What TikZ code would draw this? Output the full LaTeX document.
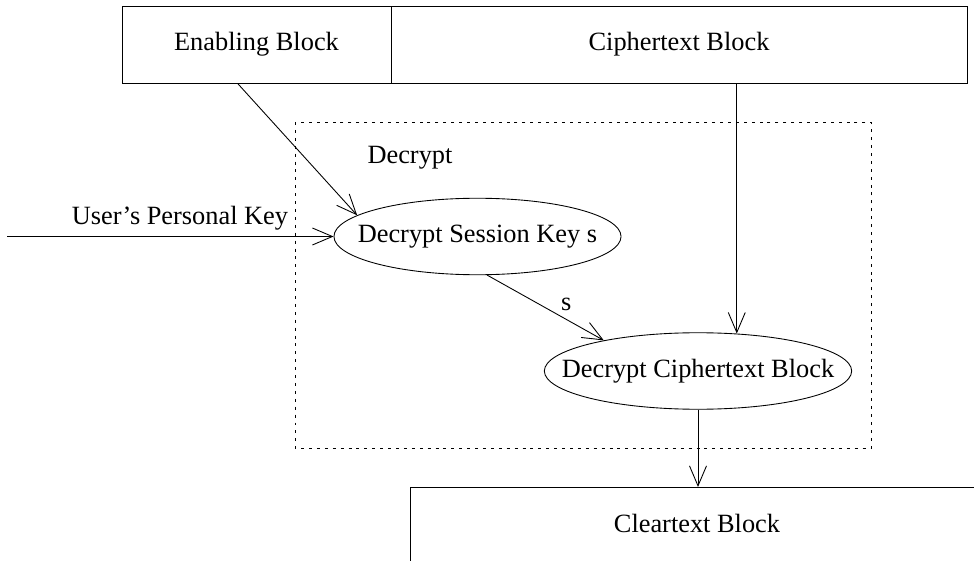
\documentclass[tikz,border=0pt]{standalone}
\usepackage{fontspec}
\setmainfont{Liberation Serif}
\usetikzlibrary{arrows.meta,shapes.geometric,calc}

\begin{document}
\begin{tikzpicture}[x=0.2mm,y=-0.2mm,line width=0.5pt,
    font=\fontsize{15}{18}\selectfont,
    blk/.style={draw,rectangle,minimum height=1.54cm,inner sep=0pt},
    proc/.style={draw,ellipse,minimum height=1.53cm,inner ysep=0pt},
    bound/.style={draw,dash pattern=on 1.7pt off 2.8pt},
    arr/.style={-{Straight Barb[length=4mm,width=3.4mm]}}]
    \useasboundingbox (0,0) rectangle (974,561);
    \node[blk,minimum width=5.38cm] (enab) at (256.5,44.5) {Enabling Block};
    \node[blk,minimum width=11.52cm] (ciph) at (679,44.5) {Ciphertext Block};
    \draw[bound] (295,122) rectangle (871,448);
    \node (dlbl) at (410,158) {Decrypt};
    \node[proc,inner xsep=-3.64mm] (sessk) at (477.5,236.5) {Decrypt Session Key s};
    \node[proc,inner xsep=-5.5mm] (decc) at (698,371) {Decrypt Ciphertext Block};
    \coordinate (usr) at (7,236.5);
    \coordinate (clrnw) at (410,487);
    \draw (410,561) -- (clrnw) -- (974,487);
    \node (clr) at (697,523) {Cleartext Block};
    \draw[arr] ($(enab.south west)!0.43!(enab.south east)$) -- (sessk.170);
    \draw[arr] (decc.44 |- ciph.south) -- (decc.44);
    \draw[arr] (usr) -- (sessk.west) node[pos=0.53,above] {User's Personal Key};
    \draw[arr] (sessk.-76) -- (decc.162) node[pos=0.6,above right,inner sep=2pt] {s};
    \draw[arr] (decc.south) -- (decc.south |- clrnw);
\end{tikzpicture}
\end{document}
